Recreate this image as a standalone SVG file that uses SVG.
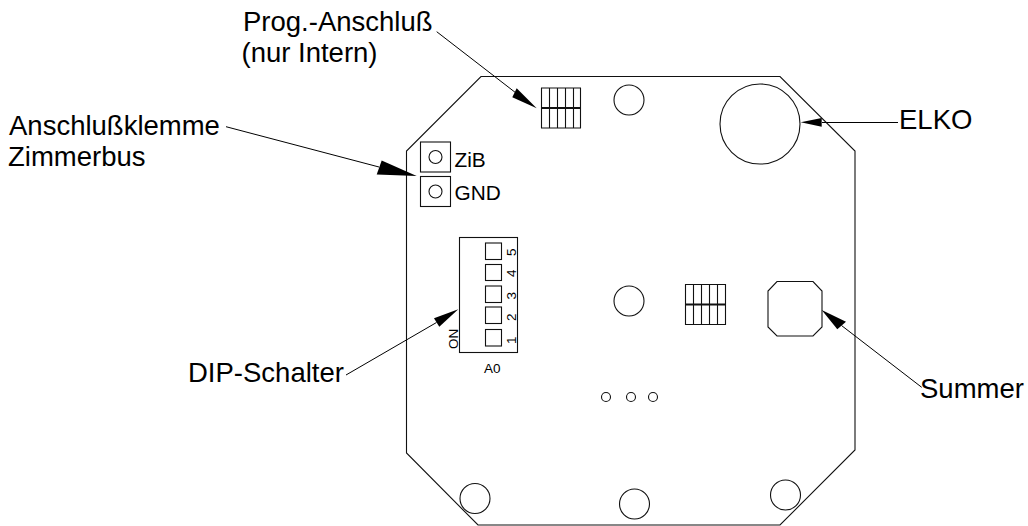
<svg xmlns="http://www.w3.org/2000/svg" width="1028" height="526" viewBox="0 0 1028 526">
<style>
.s{fill:none;stroke:#111;stroke-width:1.1}
.b{fill:none;stroke:#111;stroke-width:1.8}
.l{fill:none;stroke:#000;stroke-width:1}
.h{fill:#000;stroke:none}
text{font-family:"Liberation Sans",Arial,sans-serif;fill:#000}
.t{font-size:27.5px}
.m{font-size:20.8px}
.d{font-size:13.5px}
</style>
<rect width="1028" height="526" fill="#fff"/>
<g id="board"><polygon class="s" points="481,76.5 780,76.5 855,151 855,450 780,525 478,525 406.5,453 406.5,151"/></g>
<g id="prog-header"><path class="s" d="M541.5 88H580.5V128H541.5ZM549.5 88V128M557.5 88V128M565.5 88V128M573.5 88V128"/><path class="b" d="M541.5 108H580.5"/></g>
<g id="hole-top"><circle class="s" cx="629" cy="100" r="15"/></g>
<g id="elko"><circle class="s" cx="760" cy="124" r="40"/></g>
<g id="terminal-zib"><rect class="s" x="420.5" y="142" width="30" height="30"/><circle class="s" cx="435.5" cy="157" r="6.5"/><text class="m" x="454.5" y="166.5">ZiB</text></g>
<g id="terminal-gnd"><rect class="s" x="420.5" y="176.5" width="30" height="30"/><circle class="s" cx="435.5" cy="191.5" r="6.5"/><text class="m" x="454.5" y="199.5">GND</text></g>
<g id="dip-switch"><rect class="s" x="459.5" y="237.5" width="58" height="115"/>
<rect class="s" x="485.5" y="243" width="16" height="16.5"/><rect class="s" x="485.5" y="264.5" width="16" height="16"/><rect class="s" x="485.5" y="286" width="16" height="16.5"/><rect class="s" x="485.5" y="307" width="16" height="16.5"/><rect class="s" x="485.5" y="329.5" width="16" height="16.5"/>
<text class="d" transform="translate(516 256) rotate(-90)">5</text><text class="d" transform="translate(516 277) rotate(-90)">4</text><text class="d" transform="translate(516 299.5) rotate(-90)">3</text><text class="d" transform="translate(516 321) rotate(-90)">2</text><text class="d" transform="translate(516 344) rotate(-90)">1</text>
<text class="d" transform="translate(457.5 349) rotate(-90)">ON</text>
<text class="d" x="484" y="372.7">A0</text></g>
<g id="hole-center"><circle class="s" cx="629" cy="301" r="15"/></g>
<g id="center-header"><path class="s" d="M685.5 284.5H725.5V324.5H685.5ZM693.5 284.5V324.5M701.5 284.5V324.5M709.5 284.5V324.5M717.5 284.5V324.5"/><path class="b" d="M685.5 304.5H725.5"/></g>
<g id="summer"><polygon class="s" points="777,281.5 813,281.5 822,291 822,327 813,336 777,336 768,327 768,291"/></g>
<g id="led-holes"><circle class="s" cx="606" cy="397" r="4.5"/><circle class="s" cx="631" cy="397" r="4.5"/><circle class="s" cx="653" cy="397" r="4.5"/></g>
<g id="hole-bl"><circle class="s" cx="475" cy="498.5" r="15"/></g>
<g id="hole-bc"><circle class="s" cx="634.5" cy="504" r="15"/></g>
<g id="hole-br"><circle class="s" cx="785.5" cy="495" r="15"/></g>
<g id="connectors">
<path class="l" d="M436.7 31.7L516 93"/><polygon class="h" points="536.7,108.3 516.7,88.3 512.3,97.3"/>
<path class="l" d="M226 126.7L379 167"/><polygon class="h" points="416.7,176 381.7,160.5 376.7,174.5"/>
<path class="l" d="M898 122.5H822"/><polygon class="h" points="800.7,122.3 821.7,118 821.7,126.7"/>
<path class="l" d="M346 375L436.5 322.5"/><polygon class="h" points="458.3,309.3 434,318.3 439.3,326.7"/>
<path class="l" d="M921.7 387.3L841.5 325.5"/><polygon class="h" points="821.7,310 846,321.7 837.3,329.3"/>
</g>
<g id="labels">
<text class="t" x="243" y="31">Prog.-Anschluß</text>
<text class="t" x="241.5" y="62">(nur Intern)</text>
<text class="t" x="9" y="135">Anschlußklemme</text>
<text class="t" x="8" y="165.7">Zimmerbus</text>
<text class="t" x="899" y="129">ELKO</text>
<text class="t" x="188" y="382">DIP-Schalter</text>
<text class="t" x="920" y="397.5">Summer</text>
</g>
</svg>
